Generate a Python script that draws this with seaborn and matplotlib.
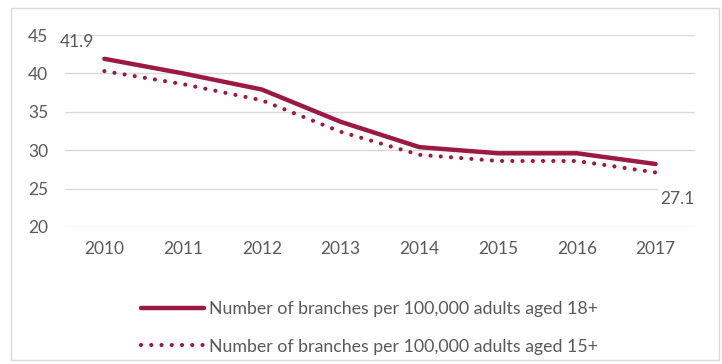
import matplotlib
matplotlib.use("Agg")
import matplotlib.pyplot as plt
import seaborn as sns
import pandas as pd
from matplotlib.patches import Rectangle

years = [2010, 2011, 2012, 2013, 2014, 2015, 2016, 2017]
adults_18 = [41.9, 40.0, 37.9, 33.7, 30.4, 29.6, 29.6, 28.2]
adults_15 = [40.3, 38.6, 36.5, 32.4, 29.4, 28.6, 28.6, 27.1]
label_18 = "Number of branches per 100,000 adults aged 18+"
label_15 = "Number of branches per 100,000 adults aged 15+"

color = "#9c1a41"
grey = "#595959"
fs = 12.5

sns.set_style("white")
plt.rcParams["font.family"] = ["Lato", "DejaVu Sans"]

df = pd.DataFrame({"year": years, "a18": adults_18, "a15": adults_15})

fig = plt.figure(figsize=(7.22, 3.64), dpi=100)
fig.patches.append(Rectangle((11 / 722, 4 / 364), 708 / 722, 352 / 364,
                             transform=fig.transFigure, fill=False,
                             edgecolor="#d9d9d9", linewidth=1))
ax = fig.add_axes([0.09, 0.3764, 0.8726, 0.5274])

sns.lineplot(data=df, x="year", y="a18", ax=ax, color=color, linewidth=3.2,
             label=label_18, solid_capstyle="round")
sns.lineplot(data=df, x="year", y="a15", ax=ax, color=color, linewidth=3.0,
             label=label_15, linestyle=(0, (0.01, 2.45)), dash_capstyle="round")

ax.set_xlim(2009.5, 2017.5)
ax.set_ylim(20, 45)
ax.set_yticks(range(20, 46, 5))
ax.set_xticks(years)
ax.set_xlabel("")
ax.set_ylabel("")
ax.grid(axis="y", color="#d9d9d9", linewidth=1)
ax.set_axisbelow(True)
for s in ax.spines.values():
    s.set_visible(False)
ax.tick_params(axis="both", length=0, labelsize=fs, labelcolor=grey)
ax.tick_params(axis="x", pad=10)
ax.tick_params(axis="y", pad=12)

ax.annotate(f"{adults_18[0]}", (years[0], adults_18[0]), xytext=(-20, 12),
            textcoords="offset points", ha="center", va="center",
            fontsize=fs, color=grey)
ax.annotate(f"{adults_15[-1]}", (years[-1], adults_15[-1]), xytext=(16, -19),
            textcoords="offset points", ha="center", va="center",
            fontsize=fs, color=grey,
            bbox=dict(boxstyle="square,pad=0.15", fc="white", ec="none"))

leg = ax.legend(loc="upper left", bbox_to_anchor=(0.11, -0.35), frameon=False,
                fontsize=12.8, handlelength=3.5, handletextpad=0.3,
                labelspacing=1.2, borderaxespad=0)
for t in leg.get_texts():
    t.set_color(grey)

fig.savefig("out.png", dpi=100)
